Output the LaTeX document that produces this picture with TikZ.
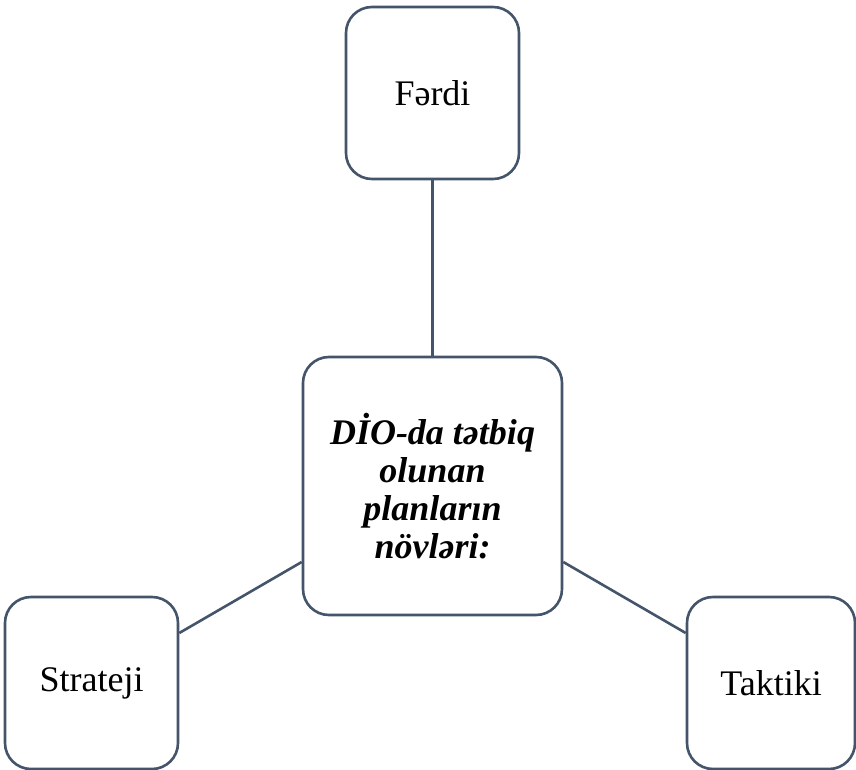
\documentclass[tikz,border=0pt]{standalone}
\usepackage{fontspec}
\setmainfont{Liberation Serif}
\usepackage{tikz}
\usetikzlibrary{positioning}
\usepackage{xcolor}
\definecolor{edgegray}{HTML}{44546A}

\begin{document}
\begin{tikzpicture}[x=1pt,y=1pt,
  plan/.style={draw=edgegray,line width=2.6pt,rounded corners=26pt,fill=white,
    minimum width=173pt,minimum height=172pt,align=center,font=\fontsize{36}{38}\selectfont},
  link/.style={draw=edgegray,line width=2.6pt}]
\useasboundingbox (0,0) rectangle (856,-770);
\node[plan] (ferdi) at (432.5,-93) {Fərdi};
\node[plan,minimum width=259pt,minimum height=258pt,font=\fontsize{36}{38}\selectfont\bfseries\itshape] (main) at (432.5,-486)
  {DİO-da tətbiq\\olunan\\planların\\növləri:};
\node[plan] (strat) at (91.5,-683) {Strateji};
\node[plan,minimum width=168pt] (takt) at (771,-683) {Taktiki};
\draw[link] (ferdi.south) -- (main.north);
\draw[link] ([yshift=50pt]strat.east) -- ([yshift=-76pt]main.west);
\draw[link] ([yshift=-76pt]main.east) -- ([yshift=50pt]takt.west);
\end{tikzpicture}
\end{document}
